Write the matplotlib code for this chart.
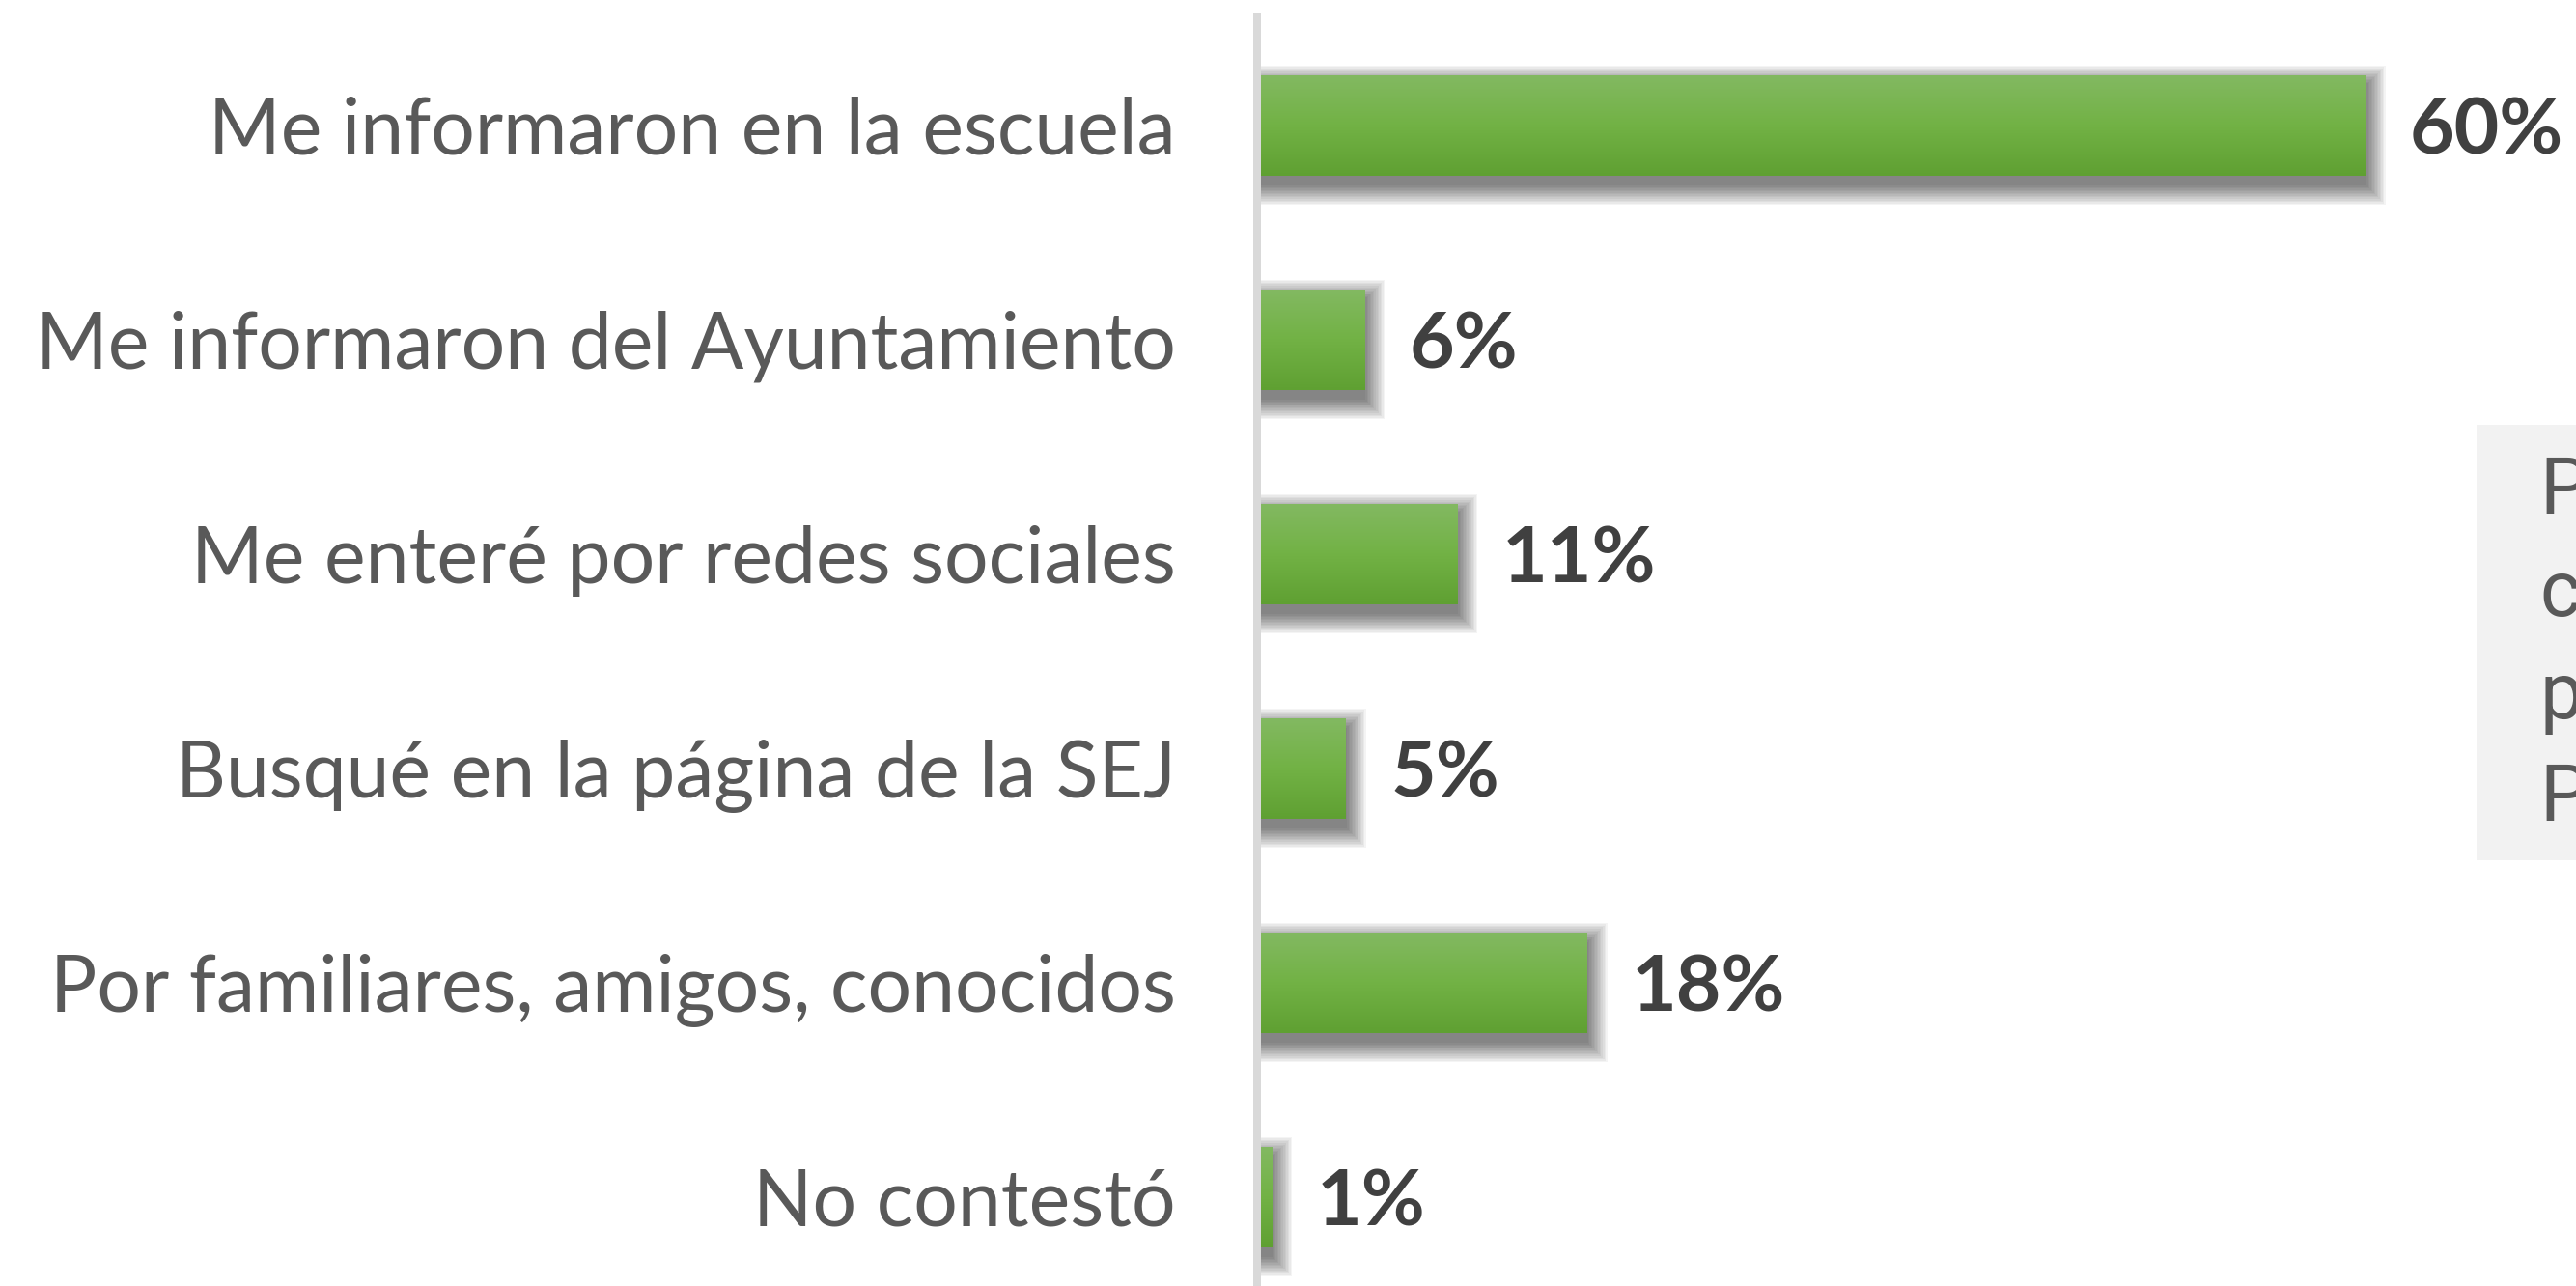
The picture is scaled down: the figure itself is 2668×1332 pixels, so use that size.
import matplotlib
matplotlib.use("Agg")
import matplotlib.pyplot as plt
import numpy as np
from matplotlib.patches import Rectangle
from matplotlib.colors import LinearSegmentedColormap

categories = [
    "Me informaron en la escuela",
    "Me informaron del Ayuntamiento",
    "Me enteré por redes sociales",
    "Busqué en la página de la SEJ",
    "Por familiares, amigos, conocidos",
    "No contestó",
]
values = [60, 6, 11, 5, 18, 1]
# texto recortado del cuadro de la derecha (solo se ve la primera letra)
side_lines = ["P", "c", "p", "P"]

W, H = 2668, 1332
ZERO_PX = 1298
PX_PER_UNIT = 19.2
ROW_PX = 222
FIRST_ROW_PX = 130

fig = plt.figure(figsize=(W / 100, H / 100), dpi=100)
ax = fig.add_axes([ZERO_PX / W, 0, (W - ZERO_PX) / W, 1])

xmax = (W - ZERO_PX) / PX_PER_UNIT
ytop = -FIRST_ROW_PX / ROW_PX
ybot = ytop + H / ROW_PX

y = np.arange(len(categories))
bars = ax.barh(y, values, height=0.47, color="#70b244", zorder=3, linewidth=0)

# degradado vertical y sombra de cada barra
cmap = LinearSegmentedColormap.from_list("g", ["#83b962", "#72b245", "#5fa032"])
grad = np.linspace(0, 1, 256).reshape(-1, 1)
px_x = 1 / PX_PER_UNIT
px_y = 1 / ROW_PX
for b in bars:
    x0, y0, w, h = b.get_x(), b.get_y(), b.get_width(), b.get_height()
    im = ax.imshow(grad, cmap=cmap, aspect="auto", origin="upper",
                   extent=(x0, x0 + w, y0 + h, y0), zorder=4)
    im.set_clip_path(b)
    for r in np.linspace(0, 20, 14):
        ax.add_patch(Rectangle((x0, y0 + 10 * px_y - r * px_y),
                               w + (1 + r) * px_x, h + 2 * r * px_y,
                               facecolor="black", alpha=0.045, lw=0, zorder=2))

for i, v in enumerate(values):
    ax.annotate(f"{v}%", (v, i), xytext=(46 * 0.72, -6 * 0.72), textcoords="offset points",
                va="center", ha="left", fontsize=58, fontweight="bold",
                color="#404040", family="Lato")

ax.axvline(4 * px_x, ymin=0, ymax=1 - 17 / H, color="#d9d9d9", lw=8 * 0.72, zorder=6)

ax.set_xlim(0, xmax)
ax.set_ylim(ybot, ytop)
ax.set_yticks(y)
ax.set_yticklabels(categories, fontsize=58, color="#595959", family="Lato")
ax.tick_params(axis="y", length=0, pad=80 * 0.72)
ax.set_xticks([])
for s in ax.spines.values():
    s.set_visible(False)
ax.patch.set_alpha(0)

# cuadro gris a la derecha, cortado por el borde
fig.patches.append(Rectangle((2565 / W, 1 - 891 / H), (W - 2565) / W, (891 - 440) / H,
                             transform=fig.transFigure, facecolor="#f2f2f2",
                             lw=0, zorder=0))
for k, t in enumerate(side_lines):
    fig.text(2630 / W, 1 - (532 + k * 106) / H, t, fontsize=58, color="#595959",
             va="baseline", ha="left", family="Roboto")

fig.savefig("out.png", dpi=100)
